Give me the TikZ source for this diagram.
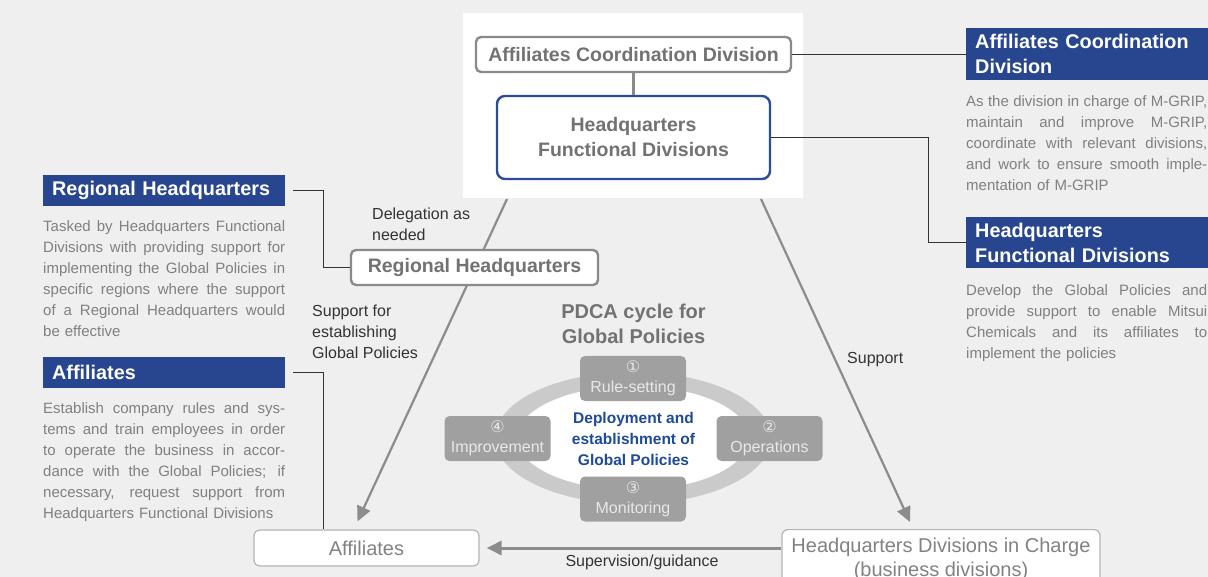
\documentclass[tikz,border=0pt]{standalone}
\usepackage{fontspec}
\setmainfont{Liberation Sans}
\newfontfamily\djv{DejaVu Sans}
\usetikzlibrary{arrows.meta,calc}
\definecolor{bgc}{HTML}{EFEFEF}
\definecolor{hdrblue}{HTML}{27468F}
\definecolor{hqblue}{HTML}{2B4C9B}
\definecolor{ctrblue}{HTML}{1E4A9C}
\definecolor{titlegray}{HTML}{727272}
\definecolor{boxgray}{HTML}{8A8A8A}
\definecolor{partext}{HTML}{808080}
\definecolor{labtext}{HTML}{333333}
\definecolor{stepgray}{HTML}{A0A0A0}
\definecolor{steptext}{HTML}{E8E8E8}
\definecolor{ringgray}{HTML}{CACACA}
\definecolor{arrgray}{HTML}{8C8C8C}
\definecolor{lightbox}{HTML}{B5B5B5}
\definecolor{btmtext}{HTML}{828282}
\newcommand\fs[2]{\fontsize{#1}{#2}\selectfont}
\newcommand\jlL[1]{{\spaceskip=0pt\xspaceskip=0pt\makebox[242pt][s]{#1}}}
\newcommand\jlR[1]{{\spaceskip=0pt\xspaceskip=0pt\makebox[241pt][s]{#1}}}
\begin{document}
\begin{tikzpicture}[x=1pt,y=-1pt,
  tbox/.style={draw=boxgray, line width=2.4pt, rounded corners=5pt, fill=white,
    text=titlegray, font=\bfseries\fs{19.5}{25}, inner sep=0pt, align=center},
  hdr/.style={fill=hdrblue, text=white, font=\bfseries\fs{19.8}{25}, inner xsep=9pt,
    inner ysep=0pt, align=left, anchor=north west},
  para/.style={text=partext, font=\fs{15}{21}, inner sep=0pt, anchor=north west, align=left},
  lab/.style={text=labtext, font=\fs{16}{21}, inner sep=0pt, align=left},
  pstep/.style={fill=stepgray, rounded corners=5pt, minimum width=106pt, minimum height=45pt,
    text=steptext, font=\fs{16}{21}, align=center, inner sep=0pt},
  conn/.style={draw=labtext, line width=1pt},
  gline/.style={draw=boxgray, line width=2.4pt},
  arr/.style={draw=arrgray, line width=2.2pt, -{Triangle[length=15pt,width=14pt]}},
  btm/.style={draw=lightbox, line width=1.2pt, rounded corners=6pt, fill=white,
    text=btmtext, font=\fs{20}{24}, align=center}
]
\fill[bgc] (0,0) rectangle (1208,577);
\useasboundingbox (0,0) rectangle (1208,577);
\fill[white] (463,13) rectangle (803,198);

% bottom boxes
\node[btm, minimum width=225pt, minimum height=36pt, inner sep=0pt] (aff) at (366.5,548) {Affiliates};
\node[btm, anchor=north, minimum width=318pt, inner xsep=0pt, inner ysep=8.5pt] (hqdc) at (941,529)
  {Headquarters Divisions in Charge\\(business divisions)};

% diagonal arrows
\coordinate (l1s) at (507,199);
\coordinate (l2s) at (761,199);
\draw[arr] (l1s) -- ([shift={(-9,-8)}]aff.north);
\draw[arr] (l2s) -- ([shift={(-31,-7)}]hqdc.north);
\draw[arr, line width=3pt] (aff.east -| hqdc.west) -- ([xshift=7pt]aff.east);

% top boxes
\node[tbox, minimum width=315pt, minimum height=35pt] (acd) at (633.5,54.5) {Affiliates Coordination Division};
\node[tbox, draw=hqblue, rounded corners=8pt, minimum width=273pt, minimum height=83pt] (hqfd) at (633.5,137.5)
  {Headquarters\\Functional Divisions};
\draw[gline] (acd.south) -- (hqfd.north);
\node[tbox, minimum width=247pt, minimum height=35pt] (rhq) at (474.5,267.5) {Regional Headquarters};

% left headers and texts
\node[hdr, text width=224pt, minimum height=31pt] (rhqh) at (43,175) {Regional Headquarters};
\node[para, text width=242pt] (rhqp) at (43,220.5) {\jlL{Tasked by Headquarters Functional}\\
\jlL{Divisions with providing support for}\\
\jlL{implementing the Global Policies in}\\
\jlL{specific regions where the support}\\
\jlL{of a Regional Headquarters would}\\
be effective};
\node[hdr, text width=224pt, minimum height=31pt] (affh) at (43,357) {Affiliates};
\node[para, text width=242pt] (affp) at (43,402.5) {\jlL{Establish company rules and sys-}\\
\jlL{tems and train employees in order}\\
\jlL{to operate the business in accor-}\\
\jlL{dance with the Global Policies; if}\\
\jlL{necessary, request support from}\\
Headquarters Functional Divisions};

% right headers and texts
\node[hdr, text width=240pt, minimum height=52pt] (acdh) at (966,28) {Affiliates Coordination\\Division};
\node[para, text width=241pt] (acdp) at (966,95.5) {\jlR{As the division in charge of M-GRIP,}\\
\jlR{maintain and improve M-GRIP,}\\
\jlR{coordinate with relevant divisions,}\\
\jlR{and work to ensure smooth imple-}\\
mentation of M-GRIP};
\node[hdr, text width=240pt, minimum height=51pt] (hqfdh) at (966,217) {Headquarters\\Functional Divisions};
\node[para, text width=241pt] (hqfdp) at (966,284.5) {\jlR{Develop the Global Policies and}\\
\jlR{provide support to enable Mitsui}\\
\jlR{Chemicals and its affiliates to}\\
implement the policies};

% connectors
\coordinate (c1) at (323,0);
\coordinate (c2) at (928,0);
\draw[conn] ([xshift=8pt]rhqh.east) -| (c1 |- rhq.west) -- (rhq.west);
\draw[conn] ([xshift=8pt]affh.east) -| (aff.north -| c1);
\draw[conn] (acd.east) -- (acd.east -| acdh.west);
\draw[conn] (hqfd.east) -| (c2 |- hqfdh.west) -- (hqfdh.west);

% labels
\node[lab, anchor=north west] (deleg) at (372,208) {Delegation as\\needed};
\node[lab, anchor=north west] (supfor) at (312,305) {Support for\\establishing\\Global Policies};
\node[lab, anchor=west] (sup) at (847,360) {Support};
\node[lab] (superv) at (642,562) {Supervision/guidance};

% PDCA
\node[text=titlegray, font=\bfseries\fs{20}{25}, align=center, inner sep=0pt] (pdca) at (633.5,323.5)
  {PDCA cycle for\\Global Policies};
\fill[ringgray] (633,438) ellipse [x radius=138, y radius=66];
\fill[white] (633,438) ellipse [x radius=116, y radius=52];
\node[text=ctrblue, font=\bfseries\fs{15.5}{21}, align=center, inner sep=0pt] (ctr) at (633.5,439)
  {Deployment and\\establishment of\\Global Policies};
\node[pstep] (rs) at (633,378.5) {\raisebox{-2pt}{\djv\fs{16}{21}①}\\[1pt]Rule-setting};
\node[pstep] (op) at (769.5,438.5) {\raisebox{-2pt}{\djv\fs{16}{21}②}\\[1pt]Operations};
\node[pstep] (imp) at (497.5,438.5) {\raisebox{-2pt}{\djv\fs{16}{21}④}\\[1pt]Improvement};
\node[pstep] (mon) at (633,499) {\raisebox{-2pt}{\djv\fs{16}{21}③}\\[1pt]Monitoring};
\end{tikzpicture}
\end{document}
